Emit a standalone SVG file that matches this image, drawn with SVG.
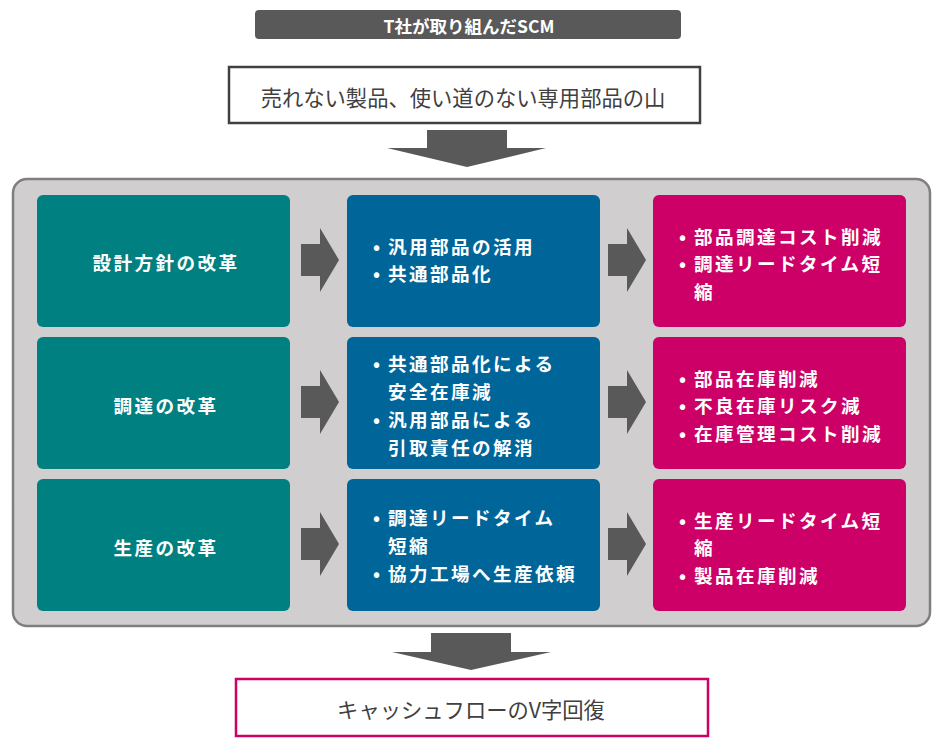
<svg xmlns="http://www.w3.org/2000/svg" width="940" height="742" viewBox="0 0 940 742">
<style>
.t{font-family:"Noto Sans CJK JP","Noto Sans",sans-serif;dominant-baseline:central}
.w{fill:#fff;font-size:18.6px;letter-spacing:2.4px;font-weight:bold}
.d{fill:#404040;font-size:21.3px}
.c1{fill:#008080}.c2{fill:#006699}.c3{fill:#cc0066}
.ar{fill:#595959}
</style>
<defs>
<path id="ra" d="M0,-16 H19 V-32 L38,0 L19,32 V16 H0 Z"/>
</defs>
<rect width="940" height="742" fill="#fff"/>
<g id="title">
<rect x="255" y="10" width="426" height="29" rx="4" fill="#595959"/>
<text class="t" x="469" y="25" text-anchor="middle" fill="#fff" font-size="17.5" font-weight="bold">T社が取り組んだSCM</text>
</g>
<g id="problem">
<rect x="229" y="67" width="471" height="56" fill="#fff" stroke="#404040" stroke-width="2.5"/>
<text class="t d" x="463" y="96" text-anchor="middle">売れない製品、使い道のない専用部品の山</text>
</g>
<g id="container">
<rect x="13" y="179" width="917" height="447" rx="14" fill="#d0cece" stroke="#7f7f7f" stroke-width="2.5"/>
</g>
<g id="n11"><rect class="c1" x="37" y="195" width="253" height="132" rx="6"/>
<text class="t w" x="166" y="261" text-anchor="middle">設計方針の改革</text></g>
<g id="n21"><rect class="c1" x="37" y="337" width="253" height="132" rx="6"/>
<text class="t w" x="166" y="404" text-anchor="middle">調達の改革</text></g>
<g id="n31"><rect class="c1" x="37" y="479" width="253" height="132" rx="6"/>
<text class="t w" x="166" y="546" text-anchor="middle">生産の改革</text></g>
<g id="n12"><rect class="c2" x="347" y="195" width="253" height="132" rx="6"/>
<text class="t w"><tspan x="373" y="245">•</tspan><tspan x="388" y="245">汎用部品の活用</tspan><tspan x="373" y="272">•</tspan><tspan x="388" y="272">共通部品化</tspan></text></g>
<g id="n22"><rect class="c2" x="347" y="337" width="253" height="132" rx="6"/>
<text class="t w"><tspan x="373" y="362">•</tspan><tspan x="388" y="362">共通部品化による</tspan><tspan x="388" y="390">安全在庫減</tspan><tspan x="373" y="418">•</tspan><tspan x="388" y="418">汎用部品による</tspan><tspan x="388" y="446">引取責任の解消</tspan></text></g>
<g id="n32"><rect class="c2" x="347" y="479" width="253" height="132" rx="6"/>
<text class="t w"><tspan x="373" y="516">•</tspan><tspan x="388" y="516">調達リードタイム</tspan><tspan x="388" y="544">短縮</tspan><tspan x="373" y="572">•</tspan><tspan x="388" y="572">協力工場へ生産依頼</tspan></text></g>
<g id="n13"><rect class="c3" x="653" y="195" width="253" height="132" rx="6"/>
<text class="t w"><tspan x="679" y="235">•</tspan><tspan x="694" y="235">部品調達コスト削減</tspan><tspan x="679" y="262">•</tspan><tspan x="694" y="262">調達リードタイム短</tspan><tspan x="694" y="290">縮</tspan></text></g>
<g id="n23"><rect class="c3" x="653" y="337" width="253" height="132" rx="6"/>
<text class="t w"><tspan x="679" y="377">•</tspan><tspan x="694" y="377">部品在庫削減</tspan><tspan x="679" y="404">•</tspan><tspan x="694" y="404">不良在庫リスク減</tspan><tspan x="679" y="432">•</tspan><tspan x="694" y="432">在庫管理コスト削減</tspan></text></g>
<g id="n33"><rect class="c3" x="653" y="479" width="253" height="132" rx="6"/>
<text class="t w"><tspan x="679" y="519">•</tspan><tspan x="694" y="519">生産リードタイム短</tspan><tspan x="694" y="546">縮</tspan><tspan x="679" y="574">•</tspan><tspan x="694" y="574">製品在庫削減</tspan></text></g>
<g id="result">
<rect x="236" y="679" width="472" height="57" fill="#fff" stroke="#cc0066" stroke-width="2.5"/>
<text class="t d" x="471" y="708" text-anchor="middle" font-size="22">キャッシュフローのV字回復</text>
</g>
<g id="connectors">
<path class="ar" d="M427,130 H507 V148 H546 L467,167 L387,148 H427 Z"/>
<path class="ar" d="M431,633 H511 V652 H551 L471,670 L392,652 H431 Z"/>
<use class="ar" href="#ra" x="301" y="260"/>
<use class="ar" href="#ra" x="608" y="260"/>
<use class="ar" href="#ra" x="301" y="402"/>
<use class="ar" href="#ra" x="608" y="402"/>
<use class="ar" href="#ra" x="301" y="544"/>
<use class="ar" href="#ra" x="608" y="544"/>
</g>
</svg>
